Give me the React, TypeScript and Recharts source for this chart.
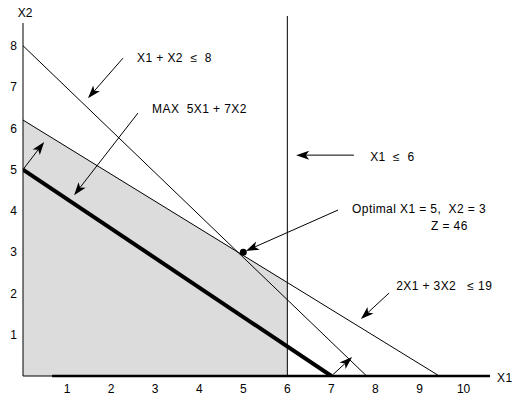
import React from "react";
import {
  ComposedChart,
  Line,
  Area,
  XAxis,
  YAxis,
  ReferenceLine,
  ReferenceDot,
} from "recharts";

const FONT = "'Liberation Sans', Arial, sans-serif";

// axis ticks
const xTicks = [1, 2, 3, 4, 5, 6, 7, 8, 9, 10];
const yTicks = [1, 2, 3, 4, 5, 6, 7, 8];

// feasible region (X1 <= 6, 2X1 + 3X2 <= 19)
const feasibleRegion = [
  { x: 0, y: 6.2 },
  { x: 6, y: 2.27 },
];

// constraint X1 + X2 <= 8
const constraint1 = [
  { x: 0, y: 8 },
  { x: 7.8, y: 0 },
];
// constraint 2X1 + 3X2 <= 19
const constraint2 = [
  { x: 0, y: 6.2 },
  { x: 9.45, y: 0 },
];
// objective 5X1 + 7X2 = 35
const objectiveLine = [
  { x: 0, y: 5 },
  { x: 7, y: 0 },
];
// constraint X1 <= 6
const x1Limit = 6;
// optimal point
const optimal = { x: 5, y: 3 };

// axes segments
const axisSegments = [
  { from: [0, 0], to: [0, 8.55], w: 1 },
  { from: [0, 0], to: [0.66, 0], w: 1 },
  { from: [0.66, 0], to: [10.6, 0], w: 2.5 },
];

// annotation arrows (data coordinates, tip at "to")
const arrows = [
  { from: [2.27, 7.7], to: [1.475, 6.73] },
  { from: [2.61, 6.37], to: [1.16, 4.38] },
  { from: [0, 5], to: [0.48, 5.67] },
  { from: [7, 0], to: [7.47, 0.46] },
  { from: [7.51, 5.35], to: [6.2, 5.35] },
  { from: [7.15, 4.02], to: [5.06, 3.03] },
  { from: [8.31, 2.01], to: [7.67, 1.38] },
];

// annotation texts (left edge, vertical centre)
const labels = [
  { x: 2.59, y: 7.7, text: "X1 + X2  \u2264  8", anchor: "start" },
  { x: 2.93, y: 6.47, text: "MAX  5X1 + 7X2", anchor: "start" },
  { x: 7.88, y: 5.31, text: "X1  \u2264  6", anchor: "start" },
  { x: 7.47, y: 4.05, text: "Optimal X1 = 5,  X2 = 3", anchor: "start" },
  { x: 9.26, y: 3.63, text: "Z = 46", anchor: "start" },
  { x: 8.47, y: 2.18, text: "2X1 + 3X2   \u2264 19", anchor: "start" },
  { x: 0.05, y: 8.79, text: "X2", anchor: "middle" },
  { x: 10.76, y: -0.05, text: "X1", anchor: "start" },
];

const arrowShape = (props: any) => {
  const { x1, y1, x2, y2 } = props;
  const dx = x2 - x1;
  const dy = y2 - y1;
  const len = Math.sqrt(dx * dx + dy * dy) || 1;
  const ux = dx / len;
  const uy = dy / len;
  const L = 13;
  const H = 4.5;
  const bx = x2 - ux * L;
  const by = y2 - uy * L;
  const nx = x2 - ux * L * 0.75;
  const ny = y2 - uy * L * 0.75;
  const px = -uy;
  const py = ux;
  const pts = [
    [x2, y2],
    [bx + px * H, by + py * H],
    [nx, ny],
    [bx - px * H, by - py * H],
  ]
    .map((p) => p.join(","))
    .join(" ");
  return (
    <g>
      <line x1={x1} y1={y1} x2={nx} y2={ny} stroke="#000" strokeWidth={1} />
      <polygon points={pts} fill="#000" />
    </g>
  );
};

const segShape = (w: number) => (props: any) => {
  const { x1, y1, x2, y2 } = props;
  return <line x1={x1} y1={y1} x2={x2} y2={y2} stroke="#000" strokeWidth={w} />;
};

const textShape = (text: string, anchor: string) => (props: any) => {
  const { cx, cy } = props;
  return (
    <text
      x={cx}
      y={cy}
      dy="0.35em"
      textAnchor={anchor}
      fontSize={12}
      fontFamily={FONT}
      fill="#000"
      letterSpacing={anchor === "start" ? 0.4 : 0}
      style={{ whiteSpace: "pre" }}
    >
      {text}
    </text>
  );
};

export default function App() {
  return (
    <div style={{ position: "absolute", left: 0, top: 0, background: "#fff" }}>
      <ComposedChart
        width={530}
        height={396}
        margin={{ top: 16, right: 40, bottom: 0, left: 0 }}
      >
        <XAxis
          type="number"
          dataKey="x"
          domain={[0, 10.6]}
          allowDataOverflow
          ticks={xTicks}
          interval={0}
          height={20}
          axisLine={false}
          tickLine={false}
          tick={{ fill: "#000", fontSize: 12, fontFamily: FONT }}
        />
        <YAxis
          type="number"
          domain={[0, 8.72]}
          allowDataOverflow
          ticks={yTicks}
          interval={0}
          width={23}
          axisLine={false}
          tickLine={false}
          tickMargin={0}
          tick={{ fill: "#000", fontSize: 12, fontFamily: FONT }}
        />
        <Area
          data={feasibleRegion}
          dataKey="y"
          type="linear"
          fill="#dcdcdc"
          fillOpacity={1}
          stroke="none"
          isAnimationActive={false}
          dot={false}
          activeDot={false}
        />
        <ReferenceLine x={x1Limit} stroke="#000" strokeWidth={1} ifOverflow="visible" />
        <Line
          data={constraint1}
          dataKey="y"
          type="linear"
          stroke="#000"
          strokeWidth={1}
          dot={false}
          activeDot={false}
          isAnimationActive={false}
        />
        <Line
          data={constraint2}
          dataKey="y"
          type="linear"
          stroke="#000"
          strokeWidth={1}
          dot={false}
          activeDot={false}
          isAnimationActive={false}
        />
        <Line
          data={objectiveLine}
          dataKey="y"
          type="linear"
          stroke="#000"
          strokeWidth={4}
          dot={false}
          activeDot={false}
          isAnimationActive={false}
        />
        {axisSegments.map((s, i) => (
          <ReferenceLine
            key={"ax" + i}
            segment={[
              { x: s.from[0], y: s.from[1] },
              { x: s.to[0], y: s.to[1] },
            ]}
            ifOverflow="visible"
            shape={segShape(s.w)}
          />
        ))}
        {arrows.map((a, i) => (
          <ReferenceLine
            key={"ar" + i}
            segment={[
              { x: a.from[0], y: a.from[1] },
              { x: a.to[0], y: a.to[1] },
            ]}
            ifOverflow="visible"
            shape={arrowShape}
          />
        ))}
        <ReferenceDot
          x={optimal.x}
          y={optimal.y}
          r={3.5}
          fill="#000"
          stroke="none"
          ifOverflow="visible"
        />
        {labels.map((l, i) => (
          <ReferenceDot
            key={"lb" + i}
            x={l.x}
            y={l.y}
            r={0}
            ifOverflow="visible"
            shape={textShape(l.text, l.anchor)}
          />
        ))}
      </ComposedChart>
    </div>
  );
}
